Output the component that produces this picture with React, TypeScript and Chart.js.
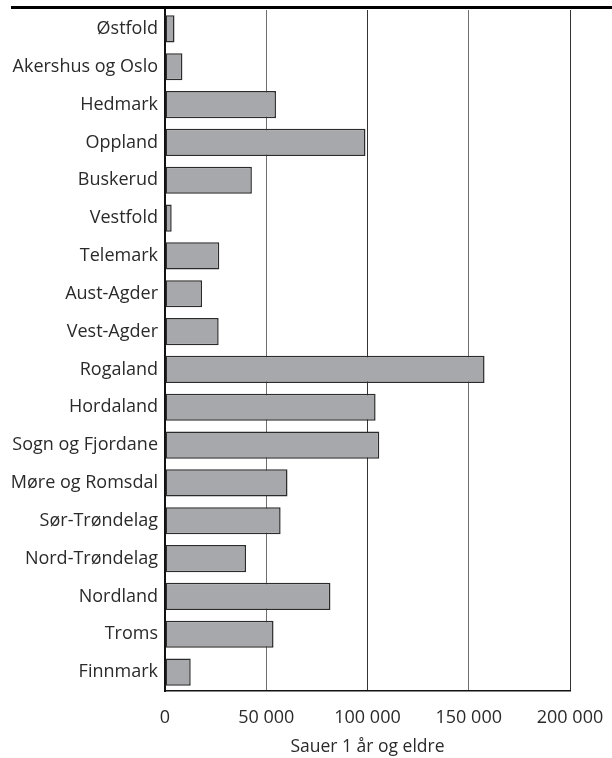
import React, { useEffect, useRef } from "react";
import { Chart, registerables } from "chart.js";

Chart.register(...registerables);

const categories = [
  "Østfold",
  "Akershus og Oslo",
  "Hedmark",
  "Oppland",
  "Buskerud",
  "Vestfold",
  "Telemark",
  "Aust-Agder",
  "Vest-Agder",
  "Rogaland",
  "Hordaland",
  "Sogn og Fjordane",
  "Møre og Romsdal",
  "Sør-Trøndelag",
  "Nord-Trøndelag",
  "Nordland",
  "Troms",
  "Finnmark",
];

const sheepValues = [
  4700, 8600, 54800, 99000, 42900, 3300, 26800, 18300, 26500, 157800, 104000,
  105800, 60500, 57100, 40000, 81700, 53600, 12700,
];

const xTickLabels = ["0", "50 000", "100 000", "150 000", "200 000"];
const xAxisTitle = "Sauer 1 år og eldre";

const FONT = "'Open Sans', 'Noto Sans', sans-serif";

const topRulePlugin = {
  id: "topRule",
  afterDraw(chart: any) {
    const ctx = chart.ctx;
    ctx.save();
    ctx.fillStyle = "#000";
    ctx.fillRect(11, 6, 601, 3);
    ctx.restore();
  },
};

export default function App() {
  const ref = useRef<HTMLCanvasElement | null>(null);

  useEffect(() => {
    if (!ref.current) return;
    const chart = new Chart(ref.current, {
      type: "bar",
      data: {
        labels: categories,
        datasets: [
          {
            data: sheepValues,
            backgroundColor: "#a7a8ab",
            borderColor: "#2b2b2b",
            borderWidth: 1.5,
            borderSkipped: false,
            categoryPercentage: 1,
            barPercentage: 0.72,
          },
        ],
      },
      plugins: [topRulePlugin],
      options: {
        indexAxis: "y",
        responsive: false,
        animation: false,
        layout: { padding: { left: 0, right: 42, top: 10, bottom: 0 } },
        plugins: {
          legend: { display: false },
          tooltip: { enabled: false },
        },
        scales: {
          x: {
            min: 0,
            max: 200000,
            afterFit(scale: any) {
              scale.height = 67;
              scale.paddingLeft = 0;
              scale.paddingRight = 0;
            },
            ticks: {
              stepSize: 50000,
              padding: 16,
              color: "#2a2a2a",
              font: { family: FONT, size: 18, weight: "400" },
              callback: (_v: any, i: number) => xTickLabels[i],
            },
            grid: {
              display: true,
              drawTicks: false,
              color: (ctx: any) => (ctx.index % 2 === 1 ? "#6e6e6e" : "#333"),
              lineWidth: 1,
            },
            border: { display: true, color: "#111", width: 1.5 },
            title: {
              display: true,
              text: xAxisTitle,
              color: "#2a2a2a",
              font: { family: FONT, size: 17.5, weight: "400" },
              padding: { top: 0, bottom: 0 },
            },
          },
          y: {
            afterFit(scale: any) {
              scale.width = 165;
              scale.paddingTop = 0;
              scale.paddingBottom = 0;
            },
            ticks: {
              padding: 7,
              color: "#2a2a2a",
              font: { family: FONT, size: 18, weight: "400" },
            },
            grid: { display: false, drawTicks: false },
            border: { display: true, color: "#111", width: 2 },
          },
        },
      },
    });
    return () => chart.destroy();
  }, []);

  return (
    <div style={{ position: "absolute", left: 0, top: 0, width: 612, height: 758 }}>
      <canvas ref={ref} width={612} height={758} style={{ display: "block" }} />
    </div>
  );
}
